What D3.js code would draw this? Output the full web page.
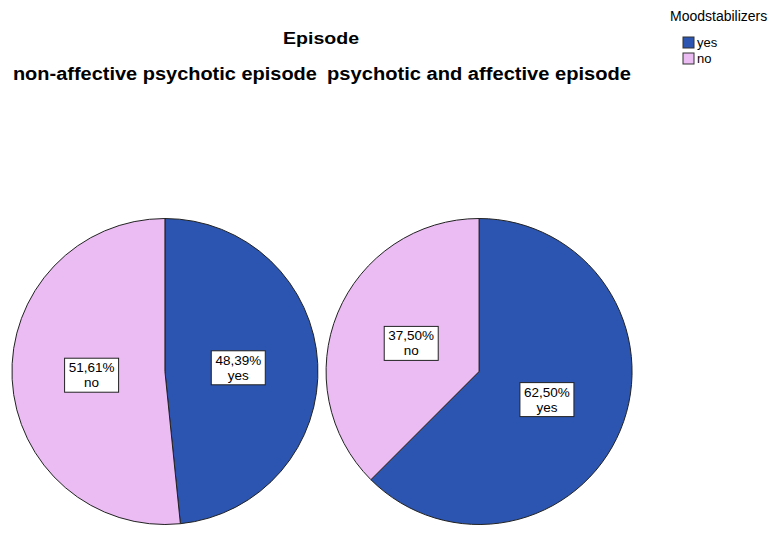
<!DOCTYPE html>
<html>
<head>
<meta charset="utf-8">
<script src="https://cdn.jsdelivr.net/npm/d3@7"></script>
<style>
  body { margin: 0; background: #fff; }
  svg { display: block; font-family: "Liberation Sans", Arial, sans-serif; }
</style>
</head>
<body>
<script>
// data
const categories = ['yes', 'no'];
const panels = ['non-affective psychotic episode', 'psychotic and affective episode'];
const percents = [
    [48.39, 51.61],
    [62.50, 37.50],
];
const colors = ['#2b55b0', '#ebbcf4'];

const width = 771, height = 537;
const radius = 153;
const cy = 371.5;

let svg = d3.select('body').append('svg')
    .attr('width', width)
    .attr('height', height);

let x = d3.scaleBand()
    .domain(panels)
    .range([11, 633])
    .paddingInner(0.02);

let color = d3.scaleOrdinal().domain(categories).range(colors);

// the title text in the picture is wider than the plain font, so stretch it
svg.append('text')
    .attr('x', 321).attr('y', 44)
    .attr('text-anchor', 'middle')
    .attr('font-weight', 'bold')
    .attr('font-size', 17)
    .attr('textLength', 76)
    .attr('lengthAdjust', 'spacingAndGlyphs')
    .text('Episode');

let pie = d3.pie().sort(null).value(d => d.value);
let arc = d3.arc().innerRadius(0).outerRadius(radius);
let labelArc = d3.arc().innerRadius(radius * 0.48).outerRadius(radius * 0.48);
const fmt = v => v.toFixed(2).replace('.', ',') + '%';

panels.forEach((p, i) => {
    let cx = x(p) + x.bandwidth() / 2;
    svg.append('text')
        .attr('x', cx).attr('y', 80)
        .attr('text-anchor', 'middle')
        .attr('font-weight', 'bold')
        .attr('font-size', 18)
        .attr('textLength', 304)
        .attr('lengthAdjust', 'spacingAndGlyphs')
        .text(p);

    let g = svg.append('g').attr('transform', `translate(${cx},${cy})`);
    let data = pie(categories.map((c, j) => ({cat: c, value: percents[i][j]})));
    g.selectAll('path')
        .data(data)
        .join('path')
        .attr('d', arc)
        .attr('fill', d => color(d.data.cat))
        .attr('stroke', '#222')
        .attr('stroke-width', 1);

    let lab = g.selectAll('g.label')
        .data(data)
        .join('g')
        .attr('class', 'label')
        .attr('transform', d => {
            let [lx, ly] = labelArc.centroid(d);
            return `translate(${lx},${ly})`;
        });
    lab.append('rect')
        .attr('x', -27).attr('y', -17)
        .attr('width', 54).attr('height', 34)
        .attr('fill', '#fff')
        .attr('stroke', '#222');
    lab.append('text')
        .attr('text-anchor', 'middle')
        .attr('y', -3)
        .attr('font-size', 13.5)
        .text(d => fmt(d.data.value));
    lab.append('text')
        .attr('text-anchor', 'middle')
        .attr('y', 12)
        .attr('font-size', 13.5)
        .text(d => d.data.cat);
});

// legend
svg.append('text')
    .attr('x', 670).attr('y', 21)
    .attr('font-size', 14)
    .text('Moodstabilizers');
let leg = svg.selectAll('g.legend')
    .data(categories)
    .join('g')
    .attr('class', 'legend')
    .attr('transform', (d, i) => `translate(683,${37 + i * 16})`);
leg.append('rect')
    .attr('width', 11).attr('height', 11)
    .attr('fill', d => color(d))
    .attr('stroke', '#333');
leg.append('text')
    .attr('x', 14).attr('y', 10)
    .attr('font-size', 13)
    .text(d => d);
</script>
</body>
</html>
